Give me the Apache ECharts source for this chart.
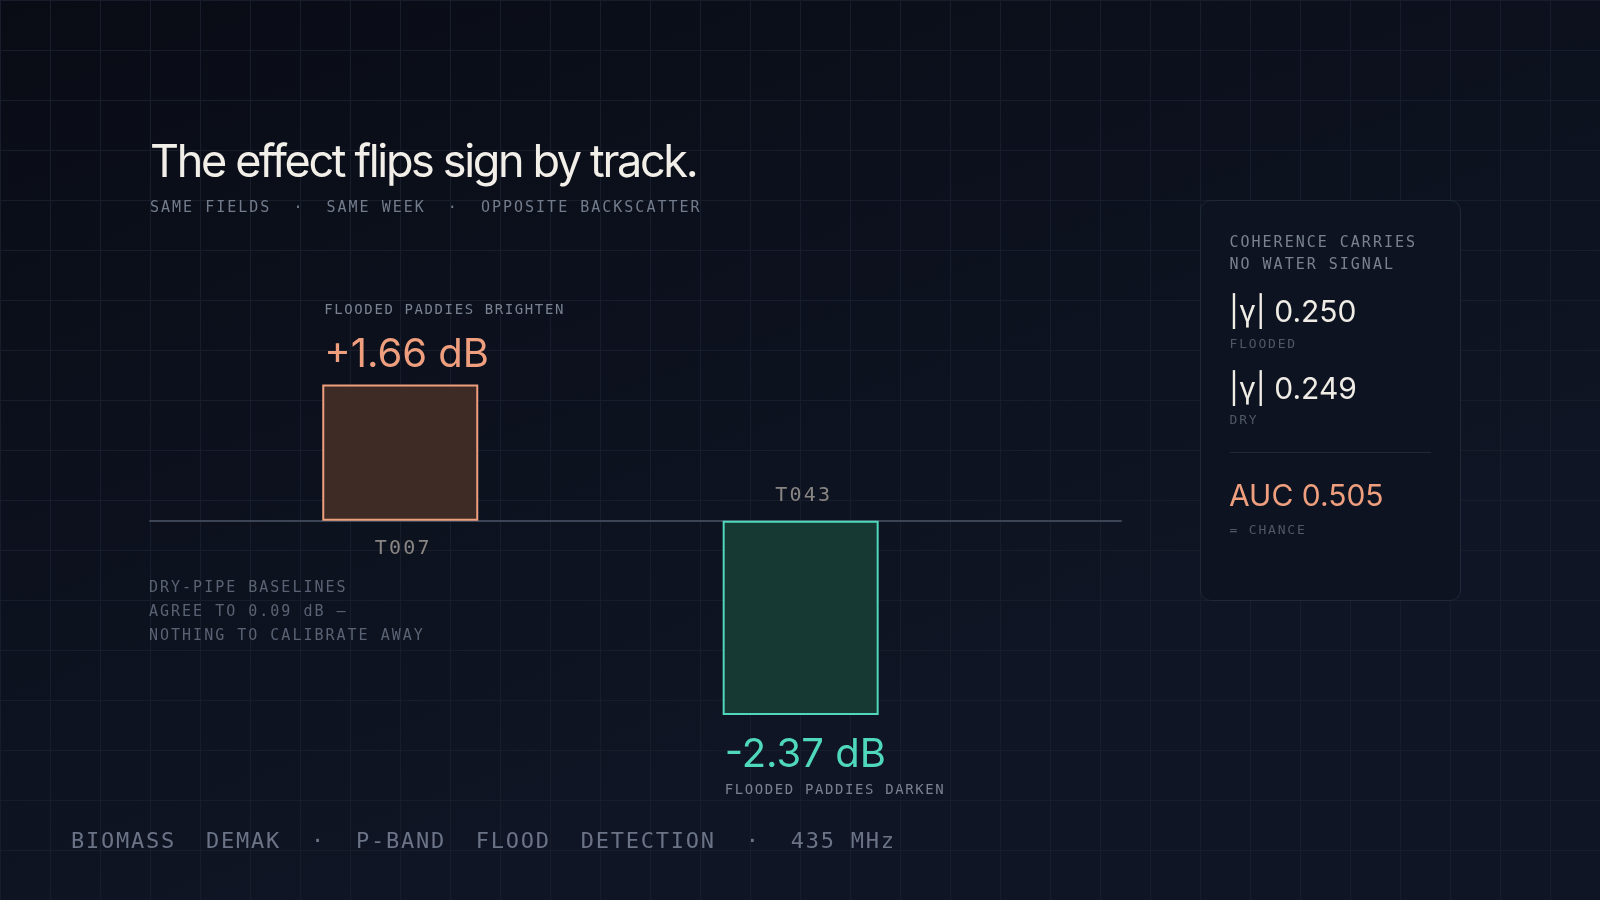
<!DOCTYPE html>
<html>
<head>
<meta charset="utf-8">
<title>The effect flips sign by track.</title>
<script src="https://cdn.jsdelivr.net/npm/echarts@6/dist/echarts.min.js"></script>
<style>
    html, body { margin: 0; padding: 0; background: #0b0f19; }
    .delta { width: 1600px; height: 900px; }
</style>
</head>
<body>
<div class="delta"></div>
<script>
// 数据
const tracks = ['T007', 'T043'];
const deltaDb = [1.66, -2.37];
const trackNotes = ['FLOODED PADDIES BRIGHTEN', 'FLOODED PADDIES DARKEN'];
const coherenceLabels = ['FLOODED', 'DRY'];
const coherenceValues = [0.250, 0.249];
const aucValue = 0.505;
const baselineAgreementDb = 0.09;

// echarts 没有 letterSpacing, 按字号给 canvas 补上
const monoSpacing = { 13: 1.8, 14: 1.6, 15: 2.0, 20: 2.2, 22: 1.75 };
(function() {
    let proto = CanvasRenderingContext2D.prototype;
    if (!('letterSpacing' in proto)) return;
    ['fillText', 'strokeText', 'measureText'].forEach(function(fn) {
        let orig = proto[fn];
        proto[fn] = function() {
            let m = /(\d+(?:\.\d+)?)px/.exec(this.font);
            let size = m ? Math.round(parseFloat(m[1])) : 0;
            let ls = 0;
            if (/Mono/.test(this.font)) ls = monoSpacing[size] || 0;
            else if (size === 45) ls = -2.35;
            this.letterSpacing = ls + 'px';
            return orig.apply(this, arguments);
        };
    });
})();

(function() {
    let chartDom = document.querySelector('.delta');
    let myChart = echarts.init(chartDom);
    const mono = "'DejaVu Sans Mono'";
    const salmon = '#ef9f7e';
    const teal = '#4fd8bc';

    function barItem(v, i) {
        let up = v > 0;
        let accent = up ? salmon : teal;
        let valText = (up ? '+' : '') + v.toFixed(2) + ' dB';
        return {
            value: [i, v],
            itemStyle: {
                color: up ? '#3e2b25' : '#163a33',
                borderColor: accent,
                borderWidth: 2
            },
            label: {
                show: true,
                position: up ? 'top' : 'bottom',
                distance: up ? -4 : 14,
                align: 'left',
                offset: [-76, 0],
                formatter: up ?
                    '{note|' + trackNotes[i] + '}\n{val|' + valText + '}' :
                    '{val|' + valText + '}\n{note|' + trackNotes[i] + '}',
                rich: {
                    note: { fontFamily: mono, fontSize: 14, lineHeight: 20, color: '#7a8291' },
                    val: { fontFamily: 'Inter', fontSize: 40, lineHeight: up ? 68 : 51, color: accent }
                }
            }
        };
    }

    // y 传基线位置, 换成中线
    function txt(x, baseline, text, size, family, color, extra) {
        let mid = family === 'Inter' ? 0.363 : 0.346;
        let style = {
            text: text,
            font: size + 'px ' + family,
            fill: color,
            textAlign: 'left',
            textVerticalAlign: 'middle',
            verticalAlign: 'middle'
        };
        Object.assign(style, extra || {});
        return { type: 'text', x: x, y: baseline - mid * size + 1.5, z: 20, silent: true, style: style };
    }

    // 右侧面板
    let panel = [{
        type: 'rect',
        z: 10,
        silent: true,
        shape: { x: 1200.5, y: 200.5, width: 260, height: 400, r: 10 },
        style: { fill: '#0d1320', stroke: '#1f2939', lineWidth: 1 }
    }];
    let head = txt(1229.5, 246.7, 'COHERENCE CARRIES\nNO WATER SIGNAL', 15, mono, '#7a8291',
        { lineHeight: 21.6, textVerticalAlign: 'top', verticalAlign: 'top' });
    head.y -= 10.8;
    panel.push(head);
    coherenceValues.forEach(function(v, i) {
        panel.push(txt(1229, 322.7 + i * 76.3, '|γ| ' + v.toFixed(3), 30, 'Inter', '#efebe5'));
        panel.push(txt(1229.5, 347.3 + i * 76.3, coherenceLabels[i], 13, mono, '#4f5868'));
    });
    panel.push({
        type: 'line',
        z: 20,
        silent: true,
        shape: { x1: 1230, y1: 452.5, x2: 1431, y2: 452.5 },
        style: { stroke: '#1f2939', lineWidth: 1 }
    });
    panel.push(txt(1229, 506.7, 'AUC ' + aucValue.toFixed(3), 30, 'Inter', salmon));
    panel.push(txt(1229.5, 533.3, '= CHANCE', 13, mono, '#4f5868'));

    let notes = txt(149, 591.3, 'DRY-PIPE BASELINES\nAGREE TO ' + baselineAgreementDb.toFixed(2) + ' dB —\nNOTHING TO CALIBRATE AWAY',
        15, mono, '#5a6374', { lineHeight: 24, textVerticalAlign: 'top', verticalAlign: 'top' });
    notes.y -= 12;
    let footer = txt(71, 848.3, 'BIOMASS  DEMAK  ·  P-BAND  FLOOD  DETECTION  ·  435 MHz', 22, mono, '#6b7487');

    let option = {
        animation: false,
        backgroundColor: {
            type: 'linear',
            x: 0,
            y: 0,
            x2: 0.2,
            y2: 1,
            colorStops: [{ offset: 0, color: '#090c15' }, { offset: 1, color: '#0f1524' }]
        },
        title: {
            text: 'The effect flips sign by track.',
            subtext: 'SAME FIELDS  ·  SAME WEEK  ·  OPPOSITE BACKSCATTER',
            left: 150,
            top: 138,
            padding: 0,
            itemGap: 10,
            textStyle: { fontFamily: 'Inter', fontSize: 45, fontWeight: 400, lineHeight: 50, color: '#f2eee8' },
            subtextStyle: { fontFamily: mono, fontSize: 15, lineHeight: 20, color: '#737c8c' }
        },
        grid: [
            { left: 0, top: 0, right: 0, bottom: 0 }, // 背景网格
            { left: 150, right: 479, top: 356.7, height: 410 }
        ],
        xAxis: [{
                gridIndex: 0,
                type: 'value',
                min: 0,
                max: 1600,
                interval: 50,
                axisLine: { show: false },
                axisTick: { show: false },
                axisLabel: { show: false },
                splitLine: { lineStyle: { color: '#171d2a', width: 1 } }
            },
            {
                gridIndex: 1,
                type: 'value',
                min: -0.625,
                max: 1.8,
                axisLine: { onZero: true, lineStyle: { color: '#3b4556', width: 2 } },
                axisTick: { show: false },
                axisLabel: { show: false },
                splitLine: { show: false }
            }
        ],
        yAxis: [{
                gridIndex: 0,
                type: 'value',
                min: 0,
                max: 900,
                interval: 50,
                inverse: true,
                axisLine: { show: false },
                axisTick: { show: false },
                axisLabel: { show: false },
                splitLine: { lineStyle: { color: '#171d2a', width: 1 } }
            },
            {
                gridIndex: 1,
                type: 'value',
                min: -3,
                max: 2,
                show: false
            }
        ],
        series: [{
                name: 'Δ backscatter',
                type: 'bar',
                xAxisIndex: 1,
                yAxisIndex: 1,
                barWidth: 156,
                silent: true,
                data: deltaDb.map(barItem)
            },
            {
                name: 'track',
                type: 'scatter',
                xAxisIndex: 1,
                yAxisIndex: 1,
                symbolSize: 1,
                silent: true,
                itemStyle: { color: 'rgba(0,0,0,0)' },
                label: {
                    show: true,
                    formatter: function(p) { return tracks[p.dataIndex]; },
                    offset: [3, 0],
                    fontFamily: mono,
                    fontSize: 20,
                    lineHeight: 20,
                    color: '#a7a29b'
                },
                data: deltaDb.map(function(v, i) {
                    return {
                        value: [i, 0],
                        label: { position: v > 0 ? 'bottom' : 'top', distance: v > 0 ? 18 : 14 }
                    };
                })
            }
        ],
        graphic: { elements: panel.concat([notes, footer]) }
    };
    myChart.setOption(option);
    window.addEventListener("resize", function() {
        myChart.resize();
    })
})();
</script>
</body>
</html>
